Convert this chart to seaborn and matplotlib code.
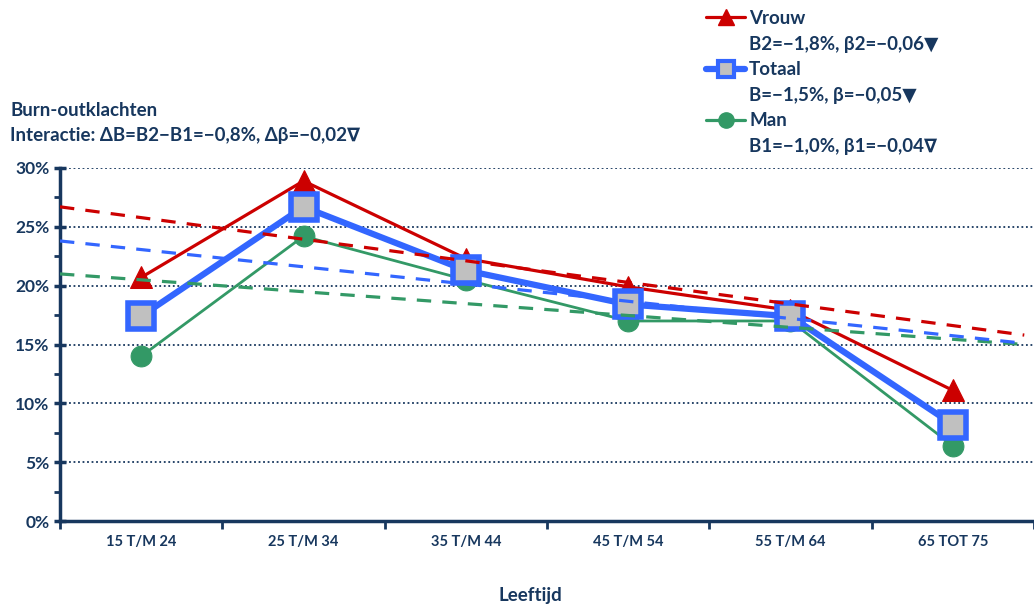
import numpy as np
import pandas as pd
import matplotlib
matplotlib.use("Agg")
import matplotlib.pyplot as plt
import seaborn as sns
from matplotlib.lines import Line2D
from matplotlib.ticker import MultipleLocator, FuncFormatter

# ---------------- data ----------------
categories = ["15 T/M 24", "25 T/M 34", "35 T/M 44", "45 T/M 54", "55 T/M 64", "65 TOT 75"]
vrouw = [20.7, 28.9, 22.3, 19.9, 17.9, 11.1]
totaal = [17.4, 26.7, 21.3, 18.4, 17.4, 8.2]
man = [14.0, 24.2, 20.5, 17.0, 17.0, 6.4]
# trend lines: value at left edge and right edge of the plot
trend_vrouw = [26.7, 15.8]
trend_totaal = [23.8, 15.1]
trend_man = [21.0, 15.0]
legend_labels = ["Vrouw", "B2=\u22121,8%, \u03b22=\u22120,06\u25bc",
                 "Totaal", "B=\u22121,5%, \u03b2=\u22120,05\u25bc",
                 "Man", "B1=\u22121,0%, \u03b21=\u22120,04\u2207"]
title_lines = ["Burn-outklachten",
               "Interactie: \u0394B=B2\u2212B1=\u22120,8%, \u0394\u03b2=\u22120,02\u2207"]
x_label = "Leeftijd"

NAVY = "#17375E"
RED = "#CC0000"
BLUE = "#3366FF"
GREEN = "#339966"
GRAY = "#C0C0C0"

sns.set_theme(style="white")
plt.rcParams["font.family"] = ["Lato", "DejaVu Sans"]
plt.rcParams["font.weight"] = "bold"

fig = plt.figure(figsize=(10.34, 6.04), dpi=100)
ax = fig.add_axes([60 / 1034, 1 - 521 / 604, 1 - 60 / 1034, (521 - 168) / 604])

xs = np.arange(len(categories))
xlim = (-0.5, 5.44)

df = pd.DataFrame({"x": xs, "Vrouw": vrouw, "Totaal": totaal, "Man": man})

# data series
sns.lineplot(data=df, x="x", y="Man", ax=ax, color=GREEN, linewidth=2.0,
             marker="o", markersize=15, markerfacecolor=GREEN, markeredgecolor=GREEN,
             zorder=3)
sns.lineplot(data=df, x="x", y="Vrouw", ax=ax, color=RED, linewidth=2.3,
             marker="^", markersize=16, markerfacecolor=RED, markeredgecolor=RED,
             zorder=4)
sns.lineplot(data=df, x="x", y="Totaal", ax=ax, color=BLUE, linewidth=4.5,
             marker="s", markersize=19, markerfacecolor=GRAY, markeredgecolor=BLUE,
             markeredgewidth=4, zorder=5)

# trend lines
tdf = pd.DataFrame({"x": list(xlim), "Vrouw": trend_vrouw, "Totaal": trend_totaal, "Man": trend_man})
for col, c in [("Man", GREEN), ("Totaal", BLUE), ("Vrouw", RED)]:
    sns.lineplot(data=tdf, x="x", y=col, ax=ax, color=c, linewidth=2.3,
                 linestyle=(0, (4.5, 3.5)), zorder=6)

ax.set_xlim(*xlim)
ax.set_ylim(0, 30)

# axes styling
for s in ["top", "right"]:
    ax.spines[s].set_visible(False)
for s in ["left", "bottom"]:
    ax.spines[s].set_color(NAVY)
    ax.spines[s].set_linewidth(2.5)

ax.yaxis.set_major_locator(MultipleLocator(5))
ax.yaxis.set_minor_locator(MultipleLocator(2.5))
ax.yaxis.set_major_formatter(FuncFormatter(lambda v, p: f"{v:.0f}%"))
ax.tick_params(axis="y", which="major", direction="inout", length=9, width=2.5,
               color=NAVY, labelsize=12.5, labelcolor=NAVY, pad=3, left=True)
ax.tick_params(axis="y", which="minor", direction="out", length=4, width=2,
               color=NAVY, left=True)
for lbl in ax.get_yticklabels():
    lbl.set_fontweight("bold")

ax.set_xticks(xs)
ax.set_xticklabels(categories, fontsize=10.5, color=NAVY, fontweight="bold")
ax.set_xticks(np.arange(-0.5, 5.6, 1.0), minor=True)
ax.tick_params(axis="x", which="major", length=0, pad=10)
ax.tick_params(axis="x", which="minor", direction="out", length=6, width=2, color=NAVY, bottom=True)

ax.grid(False)
for v in range(5, 31, 5):
    ax.axhline(v, color=NAVY, linestyle=(0, (1, 1.5)), linewidth=1.3, zorder=1)

ax.set_ylabel("")
ax.set_xlabel(x_label, fontsize=13.5, color=NAVY, fontweight="bold")
ax.xaxis.label.set_va("center")
ax.xaxis.set_label_coords((530 - 60) / (1034 - 60), -(595 - 521) / (521 - 168))

# title block
fig.text(10 / 1034, 1 - 111 / 604, title_lines[0], fontsize=13.5, color=NAVY,
         fontweight="bold", va="center", ha="left")
fig.text(10 / 1034, 1 - 135 / 604, title_lines[1], fontsize=13.5, color=NAVY,
         fontweight="bold", va="center", ha="left")

# legend
empty = Line2D([], [], linestyle="none")
handles = [
    Line2D([], [], color=RED, linewidth=2.3, marker="^", markersize=11,
           markerfacecolor=RED, markeredgecolor=RED),
    empty,
    Line2D([], [], color=BLUE, linewidth=4.5, marker="s", markersize=11,
           markerfacecolor=GRAY, markeredgecolor=BLUE, markeredgewidth=3),
    empty,
    Line2D([], [], color=GREEN, linewidth=2.3, marker="o", markersize=11,
           markerfacecolor=GREEN, markeredgecolor=GREEN),
    empty,
]
leg = fig.legend(handles, legend_labels, loc="upper left",
                 bbox_to_anchor=(706 / 1034, 1 - 10 / 604), frameon=False,
                 prop={"size": 13.5, "weight": "bold"}, handlelength=2.1,
                 handletextpad=0.2, labelspacing=0.46, borderaxespad=0, borderpad=0)
for t in leg.get_texts():
    t.set_color(NAVY)

fig.savefig("out.png", dpi=100)
